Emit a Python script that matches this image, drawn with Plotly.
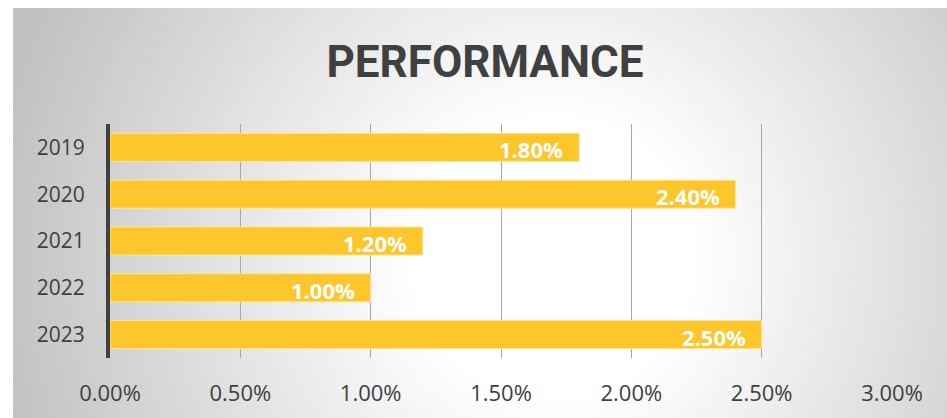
import base64
import plotly.graph_objects as go

# Annual performance figures
years = ["2019", "2020", "2021", "2022", "2023"]
performance = [0.018, 0.024, 0.012, 0.010, 0.025]
x_ticks = [0.0, 0.005, 0.010, 0.015, 0.020, 0.025, 0.030]

W, H = 947, 418
L, R, T, B = 110, 55, 124, 60
plot_w, plot_h = W - L - R, H - T - B

# Radial grey-to-white backdrop drawn as an SVG image behind the chart
bg_x0, bg_y0 = 13, 8
bg_w, bg_h = W - bg_x0, H - bg_y0
svg = f"""<svg xmlns='http://www.w3.org/2000/svg' width='{bg_w}' height='{bg_h}' viewBox='0 0 {bg_w} {bg_h}'>
<defs><radialGradient id='g' gradientUnits='userSpaceOnUse' cx='540' cy='250' r='560'>
<stop offset='0' stop-color='#ffffff'/>
<stop offset='0.25' stop-color='#ffffff'/>
<stop offset='1' stop-color='#c2c2c2'/>
</radialGradient></defs>
<rect x='0' y='0' width='{bg_w}' height='{bg_h}' fill='url(#g)'/>
</svg>"""
bg_src = "data:image/svg+xml;base64," + base64.b64encode(svg.encode()).decode()

fig = go.Figure()
fig.add_trace(go.Bar(
    x=performance,
    y=years,
    orientation="h",
    width=0.6,
    marker=dict(color="#FDC62A", line=dict(color="#FFE49A", width=1)),
    hoverinfo="skip",
))

# Value labels at the inner end of each bar (category index used for y)
for i, v in enumerate(performance):
    fig.add_annotation(
        x=v, y=i, xref="x", yref="y", text=f"{v * 100:.2f}%",
        xanchor="right", yanchor="middle", xshift=-14, yshift=-2,
        showarrow=False,
        font=dict(family="Open Sans", size=22, color="white", weight="bold"),
    )

fig.update_layout(
    width=W, height=H,
    margin=dict(l=L, r=R, t=T, b=B),
    paper_bgcolor="white",
    plot_bgcolor="rgba(0,0,0,0)",
    showlegend=False,
    title=dict(
        text="PERFORMANCE",
        x=485 / W, xanchor="center",
        y=1 - 62 / H, yanchor="middle", yref="container",
        font=dict(family="Roboto", size=44, color="#404040", weight="bold"),
    ),
    images=[dict(
        source=bg_src, xref="paper", yref="paper",
        x=(bg_x0 - L) / plot_w, y=(H - B - bg_y0) / plot_h,
        sizex=bg_w / plot_w, sizey=bg_h / plot_h,
        xanchor="left", yanchor="top", sizing="stretch", layer="below",
    )],
    xaxis=dict(
        range=[0, 0.03], tickvals=x_ticks, tickformat=".2%",
        showgrid=True, gridcolor="#a8a8a8", gridwidth=1,
        zeroline=False, showline=False, ticks="",
        ticklabelstandoff=20,
        tickfont=dict(family="Open Sans", size=22, color="#404040"),
        fixedrange=True,
    ),
    yaxis=dict(
        type="category", categoryorder="array", categoryarray=years,
        range=[len(years) - 0.5, -0.5], autorange=False,
        showgrid=False, zeroline=False,
        showline=True, linecolor="#404040", linewidth=4,
        ticks="", ticklabelstandoff=17,
        tickfont=dict(family="Open Sans", size=21, color="#404040"),
        fixedrange=True,
    ),
)

fig.write_html("out.html", config={"displayModeBar": False})
